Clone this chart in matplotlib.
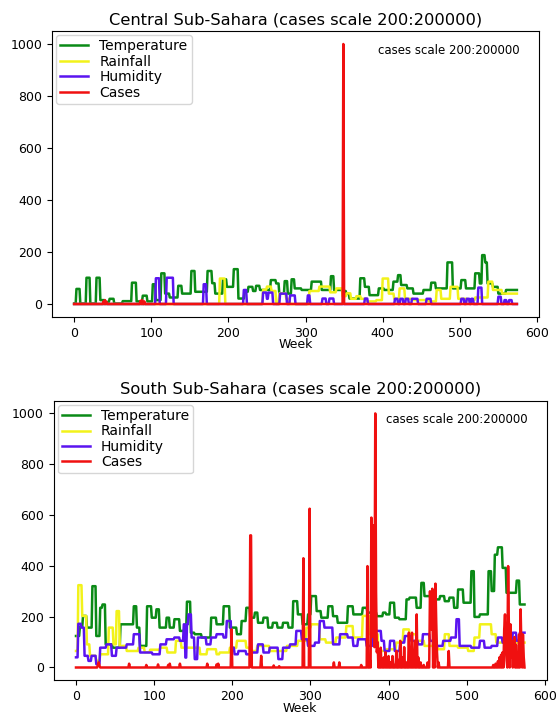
import numpy as np
import matplotlib
matplotlib.use("Agg")
import matplotlib.pyplot as plt

N_WEEKS = 575
series_names = ["Temperature", "Rainfall", "Humidity", "Cases"]
titles = ["Central Sub-Sahara (cases scale 200:200000)",
          "South Sub-Sahara (cases scale 200:200000)"]
note_text = "cases scale 200:200000"
x_label = "Week"

# ---- Central: step breakpoints (start week, value) ----
cen_temp_w = [0, 3, 8, 16, 21, 29, 34, 40, 46, 52, 63, 75, 81, 89, 95, 102, 106, 113, 118, 124,
              135, 140, 152, 157, 173, 179, 183, 193, 198, 207, 213, 221, 226, 232, 236, 241, 255,
              262, 266, 273, 277, 282, 286, 295, 308, 321, 333, 337, 349, 353, 357, 371, 377, 383,
              395, 402, 414, 420, 424, 432, 440, 453, 463, 469, 484, 491, 502, 508, 520, 526, 529,
              533, 536, 543, 550, 560]
cen_temp_v = [2, 58, 2, 101, 2, 101, 15, 8, 20, 2, 11, 82, 10, 32, 10, 76, 15, 118, 40, 25,
              70, 40, 127, 47, 127, 80, 40, 95, 66, 134, 21, 47, 66, 50, 70, 54, 92,
              79, 40, 88, 40, 95, 60, 54, 86, 54, 107, 54, 50, 40, 21, 99, 66, 34,
              60, 54, 86, 111, 73, 60, 40, 54, 82, 60, 160, 60, 92, 60, 118, 79, 188,
              160, 79, 66, 40, 54]

cen_rain_w = [0, 189, 196, 245, 250, 256, 262, 266, 275, 280, 305, 318, 332, 340, 348, 353, 359,
              366, 372, 380, 392, 400, 408, 415, 422, 429, 440, 460, 470, 476, 488, 498, 510, 520,
              537, 543, 555]
cen_rain_v = [0, 98, 0, 55, 67, 50, 0, 41, 20, 0, 50, 67, 45, 60, 30, 41, 20,
              30, 20, 10, 15, 98, 40, 20, 60, 20, 15, 10, 54, 20, 66, 20, 15, 25,
              86, 54, 40]

cen_hum_w = [0, 106, 111, 120, 129, 168, 172, 220, 224, 245, 250, 252, 258, 267, 276, 280, 287,
             303, 306, 322, 327, 331, 337, 377, 381, 416, 420, 423, 427, 430, 434, 438, 446,
             457, 463, 502, 506, 509, 513, 515, 518, 524, 529, 550, 554, 558, 561, 564, 568]
cen_hum_v = [0, 99, 0, 101, 0, 76, 0, 54, 0, 44, 20, 44, 0, 40, 0, 33, 0,
             33, 0, 21, 0, 21, 0, 21, 0, 20, 0, 20, 0, 20, 0, 20, 0,
             20, 0, 20, 0, 20, 0, 20, 0, 63, 0, 28, 0, 15, 0, 15, 0]

cen_case_w = [38, 40, 42, 86, 88, 91, 349]
cen_case_v = [10, 15, 8, 12, 15, 10, 1000]

# ---- South: step breakpoints (start week, value) ----
sou_temp_w = [0, 5, 9, 14, 21, 26, 31, 34, 38, 47, 57, 74, 78, 82, 91, 97, 103, 107, 116, 120,
              126, 133, 142, 147, 152, 161, 173, 180, 189, 197, 206, 212, 218, 223, 229, 233,
              240, 246, 252, 258, 265, 272, 278, 284, 290, 297, 301, 308, 314, 323, 329, 335,
              348, 355, 367, 373, 385, 393, 397, 402, 408, 414, 423, 427, 436, 442, 446, 455,
              466, 472, 478, 484, 489, 496, 506, 510, 517, 528, 532, 536, 540, 546, 551, 564, 568]
sou_temp_v = [124, 160, 203, 157, 320, 124, 235, 248, 91, 78, 170, 241, 157, 85, 241, 196, 229, 157, 196, 157,
              190, 144, 259, 137, 131, 118, 196, 170, 241, 157, 131, 183, 235, 196, 216, 176,
              196, 157, 176, 157, 176, 157, 261, 209, 170, 209, 281, 222, 196, 241, 202, 176,
              241, 209, 235, 216, 202, 216, 209, 255, 196, 190, 268, 275, 235, 333, 281, 268,
              281, 261, 275, 235, 307, 255, 379, 199, 209, 379, 301, 444, 473, 392, 294, 342, 248]

sou_rain_w = [0, 3, 8, 14, 18, 26, 31, 42, 48, 52, 56, 65, 80, 88, 95, 108, 117, 128, 135, 159,
              168, 180, 184, 197, 206, 218, 223, 232, 248, 270, 284, 295, 301, 312, 320, 333,
              346, 355, 367, 376, 387, 397, 410, 419, 427, 436, 446, 463, 472, 478, 489, 502,
              510, 517, 532, 538, 551, 559]
sou_rain_v = [65, 324, 203, 91, 46, 26, 52, 157, 91, 222, 85, 65, 78, 60, 70, 78, 59, 105, 78, 52,
              72, 52, 59, 78, 105, 78, 65, 85, 65, 85, 105, 157, 170, 111, 98, 118,
              163, 118, 203, 131, 65, 72, 98, 150, 131, 105, 85, 72, 131, 85, 78, 65,
              118, 170, 131, 98, 118, 98]

sou_hum_w = [0, 3, 7, 11, 16, 20, 26, 31, 39, 46, 52, 65, 74, 82, 98, 108, 116, 126, 133, 138,
             140, 142, 144, 148, 152, 156, 167, 173, 180, 189, 193, 199, 203, 208, 218, 224,
             233, 240, 248, 259, 265, 274, 282, 289, 297, 306, 312, 318, 329, 338, 348, 355,
             361, 372, 380, 391, 395, 402, 408, 415, 421, 429, 438, 444, 453, 461, 470, 480,
             487, 491, 506, 517, 523, 532, 540, 546, 559, 564, 568]
sou_hum_v = [40, 172, 157, 46, 26, 46, 13, 78, 91, 46, 78, 91, 131, 59, 52, 91, 111, 118, 105, 170,
             39, 170, 209, 118, 33, 118, 91, 118, 131, 118, 183, 78, 52, 65, 52, 59,
             91, 59, 78, 33, 78, 91, 144, 111, 85, 98, 183, 157, 91, 131, 118, 85,
             111, 85, 144, 105, 65, 105, 65, 98, 124, 105, 91, 131, 105, 85, 105, 118,
             190, 85, 78, 105, 78, 85, 118, 98, 137, 105, 137]

sou_case_w = [28, 29, 30, 68, 90, 105, 118, 120, 133, 168, 180, 182, 199, 223, 224, 237, 253, 260,
              291, 299, 330, 337, 365, 373, 376, 378, 379, 380, 381, 382, 383, 384, 385, 386,
              388, 390, 392, 394, 396, 398, 400, 403, 405, 408, 410, 413, 415, 418, 420, 423,
              426, 428, 430, 432, 434, 436, 438, 441, 445, 450, 453, 454, 455, 456, 458, 460,
              461, 462, 464, 477, 534, 537, 540, 542, 544, 546, 548, 549, 550, 551, 553, 554,
              556, 557, 558, 560, 561, 563, 565, 567, 569, 570, 572, 573]
sou_case_v = [10, 20, 8, 15, 10, 12, 10, 15, 15, 15, 12, 15, 150, 520, 520, 46, 8, 5,
              430, 625, 20, 20, 10, 399, 30, 590, 120, 560, 200, 80, 1000, 300, 60, 100,
              30, 78, 20, 40, 60, 15, 45, 20, 45, 10, 65, 30, 105, 40, 80, 20,
              137, 60, 137, 30, 105, 209, 40, 20, 10, 20, 300, 200, 150, 310, 100, 330,
              180, 60, 20, 65, 10, 15, 25, 40, 50, 60, 150, 209, 80, 30, 399, 150,
              170, 40, 105, 80, 120, 90, 60, 130, 229, 80, 130, 40]


def steps(w, v):
    w = np.asarray(w)
    lengths = np.diff(np.append(w, N_WEEKS))
    return np.repeat(np.asarray(v, dtype=float), lengths)


def spikes(w, v):
    arr = np.zeros(N_WEEKS)
    arr[np.asarray(w)] = v
    return arr


weeks = np.arange(N_WEEKS)
regions = [
    [steps(cen_temp_w, cen_temp_v), steps(cen_rain_w, cen_rain_v),
     steps(cen_hum_w, cen_hum_v), spikes(cen_case_w, cen_case_v)],
    [steps(sou_temp_w, sou_temp_v), steps(sou_rain_w, sou_rain_v),
     steps(sou_hum_w, sou_hum_v), spikes(sou_case_w, sou_case_v)],
]
colors = ["#0a8a16", "#f2f21a", "#5a14f0", "#f01010"]

fig = plt.figure(figsize=(5.58, 7.13), dpi=100)
positions = [[0.0932, 0.5554, 0.8728, 0.4011], [0.0960, 0.0460, 0.8842, 0.3920]]

for pos, title, data in zip(positions, titles, regions):
    ax = fig.add_axes(pos)
    for name, col, y in zip(series_names, colors, data):
        ax.plot(weeks, y, color=col, lw=1.8, label=name)
    ax.set_title(title, fontsize=11.7, pad=5)
    ax.set_xlabel(x_label, fontsize=9, labelpad=-1)
    ax.set_xticks([0, 100, 200, 300, 400, 500, 600])
    ax.set_yticks([0, 200, 400, 600, 800, 1000])
    ax.tick_params(labelsize=9)
    ax.set_ylim(-50, 1050)
    ax.set_xlim(-28.7, 602.7)
    ax.legend(loc="upper left", fontsize=10, handlelength=2.0, borderaxespad=0.3,
              labelspacing=0.1, framealpha=0.8, borderpad=0.3)
    ax.text(0.96, 0.955, note_text, transform=ax.transAxes, ha="right", va="top", fontsize=8.5)

fig.savefig("out.png", dpi=100)
